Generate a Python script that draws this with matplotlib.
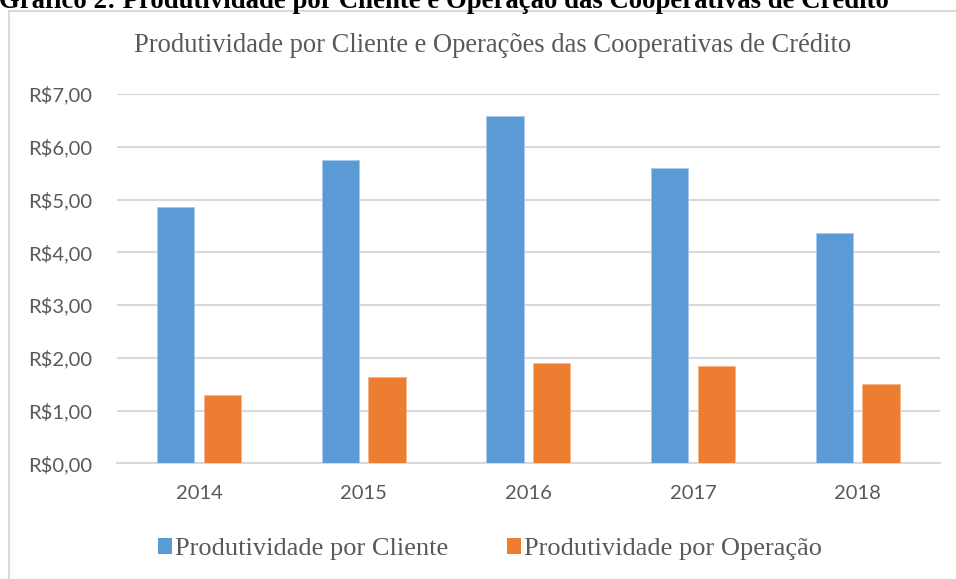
import matplotlib
matplotlib.use("Agg")
import matplotlib.pyplot as plt
from matplotlib.patches import Rectangle, Patch
import numpy as np

years = ["2014", "2015", "2016", "2017", "2018"]
por_cliente = [4.86, 5.74, 6.59, 5.59, 4.36]
por_operacao = [1.30, 1.64, 1.91, 1.85, 1.50]
series_names = ["Produtividade por Cliente", "Produtividade por Operação"]
yticks = [0, 1, 2, 3, 4, 5, 6, 7]
ytick_labels = ["R$0,00", "R$1,00", "R$2,00", "R$3,00", "R$4,00", "R$5,00", "R$6,00", "R$7,00"]
chart_title = "Produtividade por Cliente e Operações das Cooperativas de Crédito"
doc_caption = "Gráfico 2: Produtividade por Cliente e Operação das Cooperativas de Crédito"

W, H = 956, 579
fig = plt.figure(figsize=(W / 100, H / 100), dpi=100)
fig.patch.set_facecolor("white")

gray_text = "#595959"
grid_col = "#d9d9d9"
blue = "#5B9BD5"
orange = "#ED7D31"

# outer chart frame (partly cut off at right/bottom)
fig.patches.append(Rectangle((9 / W, -0.1), 1.2, 1 - 11 / H + 0.1, transform=fig.transFigure,
                             fill=False, edgecolor=grid_col, linewidth=1.5, zorder=0))

# document caption, cut at top as in the reference
fig.text(-0.001, 1 - 8.5 / H, doc_caption, fontsize=19.3, fontweight="bold",
         family="Liberation Serif", color="black", ha="left", va="baseline")

ax = fig.add_axes([116.7 / W, 1 - 463.3 / H, (940 - 116.7) / W, (463.3 - 94) / H])
x = np.arange(len(years))
bw = 0.225
off = 0.1417
ax.bar(x - off, por_cliente, bw, color=blue, edgecolor="#a9c9ec", linewidth=0.6, zorder=3)
ax.bar(x + off, por_operacao, bw, color=orange, edgecolor="#f6b48c", linewidth=0.6, zorder=3)

ax.set_xlim(-0.5, len(years) - 0.5)
ax.set_ylim(0, 7)
ax.set_yticks(yticks)
ax.set_yticklabels(ytick_labels)
ax.set_xticks(x)
ax.set_xticklabels(years)
for s in ["top", "right", "left"]:
    ax.spines[s].set_visible(False)
ax.spines["bottom"].set_color(grid_col)
ax.spines["bottom"].set_linewidth(1.5)
ax.yaxis.grid(True, color=grid_col, linewidth=1.5, zorder=0)
ax.set_axisbelow(True)
ax.tick_params(axis="both", length=0, labelsize=14.5, labelcolor=gray_text)
ax.tick_params(axis="y", pad=17.5)
ax.tick_params(axis="x", pad=15.5)
for lab in ax.get_xticklabels() + ax.get_yticklabels():
    lab.set_family("Lato")

fig.text(493 / W, 1 - 52 / H, chart_title, fontsize=19.1, family="Liberation Serif",
         color=gray_text, ha="center", va="baseline")

handles = [Patch(facecolor=blue, edgecolor="none"), Patch(facecolor=orange, edgecolor="none")]
leg = fig.legend(handles, series_names, loc="center", bbox_to_anchor=(490 / W, 1 - 549 / H),
                 ncol=2, frameon=False, handlelength=0.55, handleheight=0.55, handletextpad=0.12,
                 columnspacing=2.2, prop={"family": "Liberation Serif", "size": 19})
for t in leg.get_texts():
    t.set_color(gray_text)

fig.savefig("out.png", dpi=100)
